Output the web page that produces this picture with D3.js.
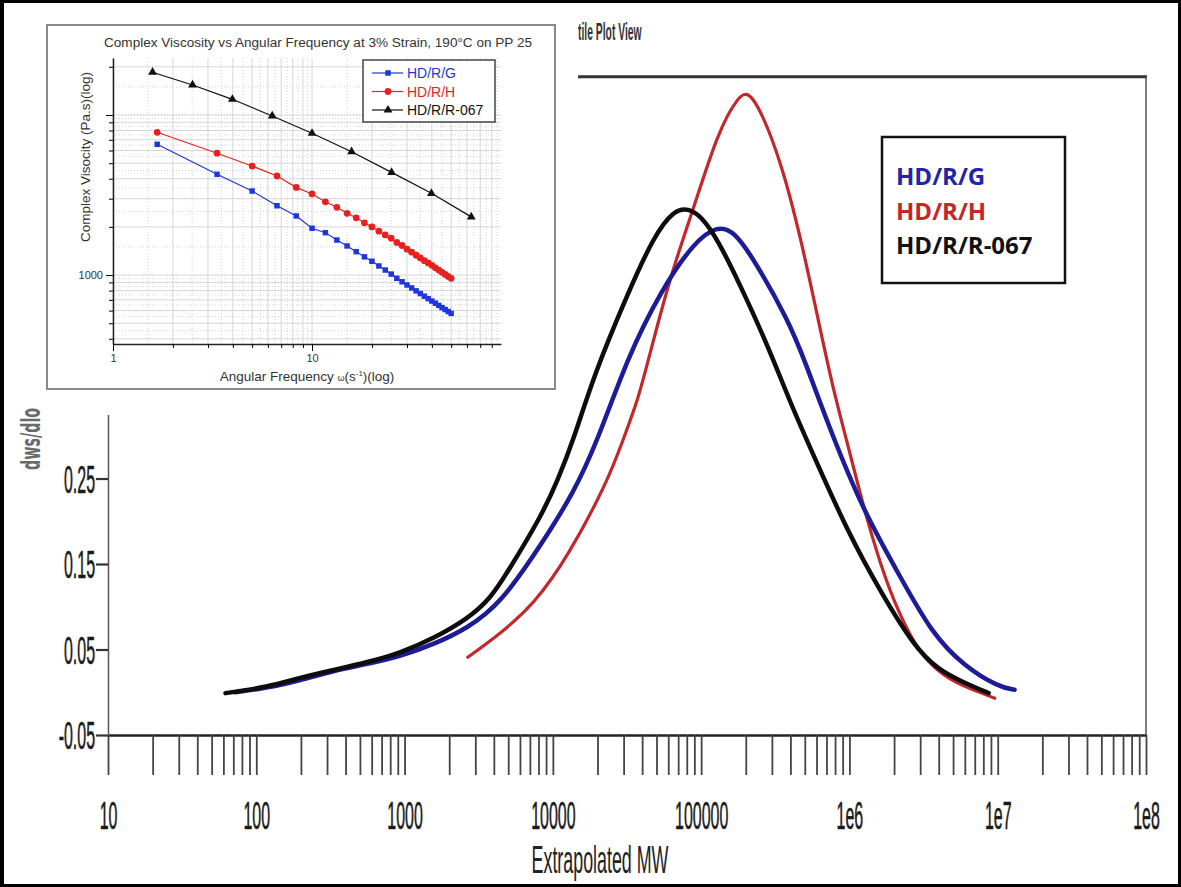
<!DOCTYPE html>
<html><head><meta charset="utf-8">
<script src="https://cdn.jsdelivr.net/npm/d3@7"></script>
<style>body{margin:0;background:#fff;} svg{display:block;}</style>
</head><body>
<svg id="chart" width="1181" height="887"></svg>
<script>
// ---------- main chart data: dw/dlogM vs Extrapolated MW ----------
const seriesNames = ["HD/R/G", "HD/R/H", "HD/R/R-067"];
const seriesColors = ["#1c1c96", "#c0282c", "#0d0d0d"];
const legendColors = ["#2424a6", "#c62626", "#111111"];

const mwG = [72, 119, 198, 331, 562, 940, 1570, 2670, 4460, 8300, 13900, 20100, 32100, 53700, 89800, 130000, 167000, 228000, 387000, 497000, 755000, 1.26e6, 2.14e6, 3.58e6, 5.98e6, 1.02e7, 1.3e7];
const dwG = [0.000, 0.005, 0.014, 0.025, 0.033, 0.042, 0.056, 0.075, 0.104, 0.172, 0.234, 0.295, 0.393, 0.470, 0.527, 0.546, 0.539, 0.506, 0.435, 0.389, 0.303, 0.210, 0.139, 0.069, 0.030, 0.006, 0.003];

const mwH = [2670, 4460, 7450, 12600, 23600, 29700, 37500, 43900, 62700, 89800, 130000, 178000, 208000, 254000, 348000, 474000, 647000, 793000, 984000, 1.26e6, 1.64e6, 2.14e6, 3.06e6, 4.67e6, 7.8e6, 9.55e6];
const dwH = [0.041, 0.069, 0.103, 0.158, 0.248, 0.295, 0.342, 0.388, 0.490, 0.568, 0.656, 0.697, 0.703, 0.680, 0.619, 0.529, 0.418, 0.348, 0.287, 0.213, 0.146, 0.093, 0.041, 0.014, -0.001, -0.007];

const mwR = [62, 119, 198, 331, 562, 940, 1570, 2670, 3810, 4970, 8300, 10800, 13900, 18900, 32100, 48100, 65700, 81700, 100000, 130000, 186000, 284000, 405000, 580000, 984000, 1.64e6, 2.75e6, 3.99e6, 5.98e6, 8.69e6];
const dwR = [-0.001, 0.006, 0.017, 0.026, 0.035, 0.046, 0.063, 0.086, 0.110, 0.141, 0.205, 0.248, 0.297, 0.371, 0.467, 0.534, 0.564, 0.566, 0.557, 0.529, 0.474, 0.404, 0.336, 0.275, 0.186, 0.116, 0.053, 0.026, 0.011, -0.001];

const xTickValues = [10, 100, 1000, 10000, 100000, 1e6, 1e7, 1e8];
const xTickLabels = ["10", "100", "1000", "10000", "100000", "1e6", "1e7", "1e8"];
const yTickValues = [-0.05, 0.05, 0.15, 0.25];
const yTickLabels = ["-0.05", "0.05", "0.15", "0.25"];

// ---------- inset data: complex viscosity vs angular frequency ----------
const freqR067 = [1.58, 2.51, 3.98, 6.31, 10, 15.8, 25.1, 39.8, 63.1];
const etaR067 = [18500, 15400, 12530, 9860, 7690, 5900, 4380, 3240, 2310];
const freqGH = [1.667, 3.333, 5, 6.667, 8.333, 10, 11.67, 13.33, 15, 16.67, 18.33, 20, 21.67, 23.33, 25, 26.67, 28.33, 30, 31.67, 33.33, 35, 36.67, 38.33, 40, 41.67, 43.33, 45, 46.67, 48.33, 50];
const etaH = [7800, 5770, 4800, 4160, 3530, 3210, 2870, 2650, 2430, 2280, 2120, 2000, 1880, 1780, 1700, 1600, 1530, 1450, 1390, 1330, 1280, 1230, 1190, 1150, 1110, 1075, 1040, 1010, 980, 954];
const etaG = [6560, 4260, 3350, 2710, 2340, 1960, 1840, 1655, 1520, 1400, 1300, 1220, 1140, 1075, 1014, 954, 908, 867, 831, 797, 766, 738, 712, 688, 667, 646, 626, 609, 592, 576];
const insetXTickLabels = {1: "1", 10: "10"};
const insetYTickLabels = {1000: "1000"};
const insetColors = ["#1f36dc", "#e6221f", "#111111"];

// ---------- drawing ----------
const W = 1181, H = 887;
const svg = d3.select("#chart");
svg.append("rect").attr("width", W).attr("height", H).attr("fill", "#fff");

const x = d3.scaleLog().domain([10, 1e8]).range([108, 1146]);
const y = d3.scaleLinear().domain([-0.05, 0.72]).range([735, 76.7]);
const NARROW = "Liberation Sans, Arial, sans-serif";

// plot frame pieces
svg.append("line").attr("x1", 578).attr("x2", x(1e8) + 1).attr("y1", y(0.72)).attr("y2", y(0.72))
  .attr("stroke", "#333").attr("stroke-width", 3);
svg.append("line").attr("x1", x(1e8)).attr("x2", x(1e8)).attr("y1", y(0.72)).attr("y2", y(-0.05))
  .attr("stroke", "#555").attr("stroke-width", 1.5);

// title fragment
svg.append("text").attr("transform", "translate(578,40) scale(0.45,1)")
  .attr("font-family", NARROW).attr("font-weight", "bold").attr("font-size", 23).attr("fill", "#333")
  .text("tile Plot View");

// x axis
const xTicks = [];
for (let e = 1; e < 8; e++) for (let m = 1; m < 10; m++) xTicks.push(m * Math.pow(10, e));
xTicks.push(1e8);
const gx = svg.append("g").attr("transform", `translate(0,${y(-0.05)})`)
  .call(d3.axisBottom(x).tickValues(xTicks).tickSize(40).tickSizeOuter(0)
    .tickFormat(d => { const i = xTickValues.indexOf(d); return i >= 0 ? xTickLabels[i] : ""; }));
gx.select(".domain").attr("stroke", "#222").attr("stroke-width", 2.5);
gx.selectAll(".tick line").attr("stroke", "#444").attr("stroke-width", 1.8);
gx.selectAll(".tick text").attr("y", null).attr("dy", null)
  .attr("transform", "translate(0,94) scale(0.42,1)")
  .attr("font-family", NARROW).attr("font-size", 38).attr("fill", "#1a1a1a")
  .attr("stroke", "#1a1a1a").attr("stroke-width", 0.6);

// y axis
const yAxisScale = y.copy().domain([-0.05, 0.325]).range([y(-0.05), y(0.325)]);
const gy = svg.append("g").attr("transform", `translate(${x(10)},0)`)
  .call(d3.axisLeft(yAxisScale).tickValues(yTickValues).tickSize(12).tickSizeOuter(0)
    .tickFormat((d, i) => yTickLabels[i]));
gy.select(".domain").attr("stroke", "#555").attr("stroke-width", 1.5);
gy.selectAll(".tick line").attr("stroke", "#333").attr("stroke-width", 2.2);
gy.selectAll(".tick text").attr("x", null).attr("dy", "0.36em")
  .attr("transform", "translate(-13,0) scale(0.42,1)")
  .attr("font-family", NARROW).attr("font-size", 38).attr("fill", "#1a1a1a")
  .attr("stroke", "#1a1a1a").attr("stroke-width", 0.6);

// axis titles
svg.append("text").attr("transform", "translate(600,873) scale(0.47,1)")
  .attr("text-anchor", "middle").attr("font-family", NARROW).attr("font-size", 38).attr("fill", "#222")
  .text("Extrapolated MW");
svg.append("text").attr("transform", "translate(40,470) rotate(-90) scale(0.55,1)")
  .attr("font-family", "DejaVu Sans, sans-serif").attr("font-weight", "bold").attr("font-size", 26)
  .attr("fill", "#6a6a6a").text("dws/dlo");

// curves
const line = d3.line().x(d => x(d[0])).y(d => y(d[1])).curve(d3.curveBasis);
const zip = (a, b) => a.map((v, i) => [v, b[i]]);
const curves = [
  {d: zip(mwH, dwH), c: seriesColors[1], w: 3.2},
  {d: zip(mwG, dwG), c: seriesColors[0], w: 4.5},
  {d: zip(mwR, dwR), c: seriesColors[2], w: 4.5}
];
svg.append("g").selectAll("path").data(curves).join("path")
  .attr("d", d => line(d.d)).attr("fill", "none").attr("stroke", d => d.c)
  .attr("stroke-width", d => d.w).attr("stroke-linecap", "round").attr("stroke-linejoin", "round");

// main legend
const lg = svg.append("g");
lg.append("rect").attr("x", 882).attr("y", 137).attr("width", 183).attr("height", 146)
  .attr("fill", "#fff").attr("stroke", "#111").attr("stroke-width", 2.5);
lg.selectAll("text").data(seriesNames).join("text")
  .attr("x", 896).attr("y", (d, i) => 185 + i * 34.5)
  .attr("font-family", "Open Sans, Noto Sans, sans-serif").attr("font-weight", "bold").attr("font-size", 24)
  .attr("fill", (d, i) => legendColors[i]).text(d => d);

// ---------- inset ----------
const ins = svg.append("g");
ins.append("rect").attr("x", 47).attr("y", 25).attr("width", 508).attr("height", 364)
  .attr("fill", "#fff").attr("stroke", "#8a8a8a").attr("stroke-width", 2);

const xi = d3.scaleLog().domain([1, 89]).range([113, 501]);
const yi = d3.scaleLog().domain([371, 22700]).range([344, 58]);

const xiTicks = [];
for (let e = 0; e < 2; e++) for (let m = 1; m < 10; m++) { const v = m * Math.pow(10, e); if (v <= 89) xiTicks.push(v); }
const yiTicks = [];
for (let e = 2; e < 5; e++) for (let m = 1; m < 10; m++) { const v = m * Math.pow(10, e); if (v >= 371 && v <= 22700) yiTicks.push(v); }
const xiDots = [];
xiTicks.forEach(v => { const step = v < 10 ? 0.5 : 5; if (v + step < 89) xiDots.push(v + step); });
const yiDots = [];
yiTicks.forEach(v => { const step = v < 1000 ? 50 : (v < 10000 ? 500 : 5000); if (v + step < 22700) yiDots.push(v + step); });

const grid = ins.append("g");
grid.selectAll("line.vd").data(xiDots).join("line").attr("class", "vd")
  .attr("x1", d => xi(d)).attr("x2", d => xi(d)).attr("y1", yi.range()[1]).attr("y2", yi.range()[0])
  .attr("stroke", "#c9c9c9").attr("stroke-width", 0.8).attr("stroke-dasharray", "1,2");
grid.selectAll("line.hd").data(yiDots).join("line").attr("class", "hd")
  .attr("y1", d => yi(d)).attr("y2", d => yi(d)).attr("x1", xi.range()[0]).attr("x2", xi.range()[1])
  .attr("stroke", "#c9c9c9").attr("stroke-width", 0.8).attr("stroke-dasharray", "1,2");
grid.selectAll("line.v").data(xiTicks).join("line").attr("class", "v")
  .attr("x1", d => xi(d)).attr("x2", d => xi(d)).attr("y1", yi.range()[1]).attr("y2", yi.range()[0])
  .attr("stroke", "#d6d6d6").attr("stroke-width", 1);
grid.selectAll("line.h").data(yiTicks).join("line").attr("class", "h")
  .attr("y1", d => yi(d)).attr("y2", d => yi(d)).attr("x1", xi.range()[0]).attr("x2", xi.range()[1])
  .attr("stroke", "#d6d6d6").attr("stroke-width", 1);

const gxi = ins.append("g").attr("transform", `translate(0,${yi.range()[0]})`)
  .call(d3.axisBottom(xi).tickValues(xiTicks).tickSize(4).tickSizeOuter(0)
    .tickFormat(d => insetXTickLabels[d] || ""));
gxi.selectAll(".tick line").filter(d => d === 1 || d === 10).attr("y2", 7);
gxi.select(".domain").attr("stroke", "#222").attr("stroke-width", 1.5);
gxi.selectAll(".tick text").attr("font-family", NARROW).attr("font-size", 11).attr("fill", "#333").attr("y", 10);

const gyi = ins.append("g").attr("transform", `translate(${xi.range()[0]},0)`)
  .call(d3.axisLeft(yi).tickValues(yiTicks).tickSize(4).tickSizeOuter(0)
    .tickFormat(d => insetYTickLabels[d] || ""));
gyi.selectAll(".tick line").filter(d => d === 1000 || d === 10000).attr("x2", -7);
gyi.select(".domain").attr("stroke", "#222").attr("stroke-width", 1.5);
gyi.selectAll(".tick text").attr("font-family", NARROW).attr("font-size", 11).attr("fill", "#333").attr("x", -10);

ins.append("text").attr("x", 318).attr("y", 47).attr("text-anchor", "middle")
  .attr("font-family", NARROW).attr("font-size", 12.5).attr("fill", "#333")
  .attr("textLength", 428).attr("lengthAdjust", "spacingAndGlyphs")
  .text("Complex Viscosity vs Angular Frequency at 3% Strain, 190°C on PP 25");
ins.append("text").attr("transform", "translate(90,157) rotate(-90)").attr("text-anchor", "middle")
  .attr("font-family", NARROW).attr("font-size", 13.5).attr("fill", "#333")
  .text("Complex Visocity (Pa.s)(log)");
const xl = ins.append("text").attr("x", 307).attr("y", 381).attr("text-anchor", "middle")
  .attr("font-family", NARROW).attr("font-size", 13.5).attr("fill", "#333");
xl.append("tspan").text("Angular Frequency ");
xl.append("tspan").attr("font-size", 9).text("ω");
xl.append("tspan").text("(s");
xl.append("tspan").attr("font-size", 8).attr("dy", -5).text("-1");
xl.append("tspan").attr("dy", 5).text(")(log)");

// inset series
const iline = d3.line().x(d => xi(d[0])).y(d => yi(d[1]));
const inSeries = [
  {name: seriesNames[0], d: zip(freqGH, etaG), c: insetColors[0], m: "square"},
  {name: seriesNames[1], d: zip(freqGH, etaH), c: insetColors[1], m: "circle"},
  {name: seriesNames[2], d: zip(freqR067, etaR067), c: insetColors[2], m: "triangle"}
];
const symFor = m => m === "square" ? d3.symbol(d3.symbolSquare, 30) :
  m === "circle" ? d3.symbol(d3.symbolCircle, 36) : d3.symbol(d3.symbolTriangle, 34);
inSeries.forEach(s => {
  ins.append("path").attr("d", iline(s.d)).attr("fill", "none").attr("stroke", s.c).attr("stroke-width", 1.2);
  ins.append("g").selectAll("path").data(s.d).join("path")
    .attr("transform", d => `translate(${xi(d[0])},${yi(d[1])})`)
    .attr("d", symFor(s.m)()).attr("fill", s.c);
});

// inset legend
const il = ins.append("g");
il.append("rect").attr("x", 363).attr("y", 60).attr("width", 132).attr("height", 62)
  .attr("fill", "#fff").attr("stroke", "#444").attr("stroke-width", 1.5);
inSeries.forEach((s, i) => {
  const ly = 73 + i * 18.5;
  il.append("line").attr("x1", 372).attr("x2", 403).attr("y1", ly).attr("y2", ly).attr("stroke", s.c).attr("stroke-width", 1.2);
  il.append("path").attr("transform", `translate(388,${ly})`).attr("d", symFor(s.m)()).attr("fill", s.c);
  il.append("text").attr("x", 407).attr("y", ly + 5).attr("font-family", NARROW).attr("font-size", 14)
    .attr("fill", s.c).text(s.name);
});

// outer border
svg.append("rect").attr("x", 1.5).attr("y", 1.5).attr("width", W - 3).attr("height", H - 3)
  .attr("fill", "none").attr("stroke", "#000").attr("stroke-width", 3);
svg.append("line").attr("x1", 2).attr("x2", 2).attr("y1", 0).attr("y2", H).attr("stroke", "#000").attr("stroke-width", 4);
</script>
</body></html>
